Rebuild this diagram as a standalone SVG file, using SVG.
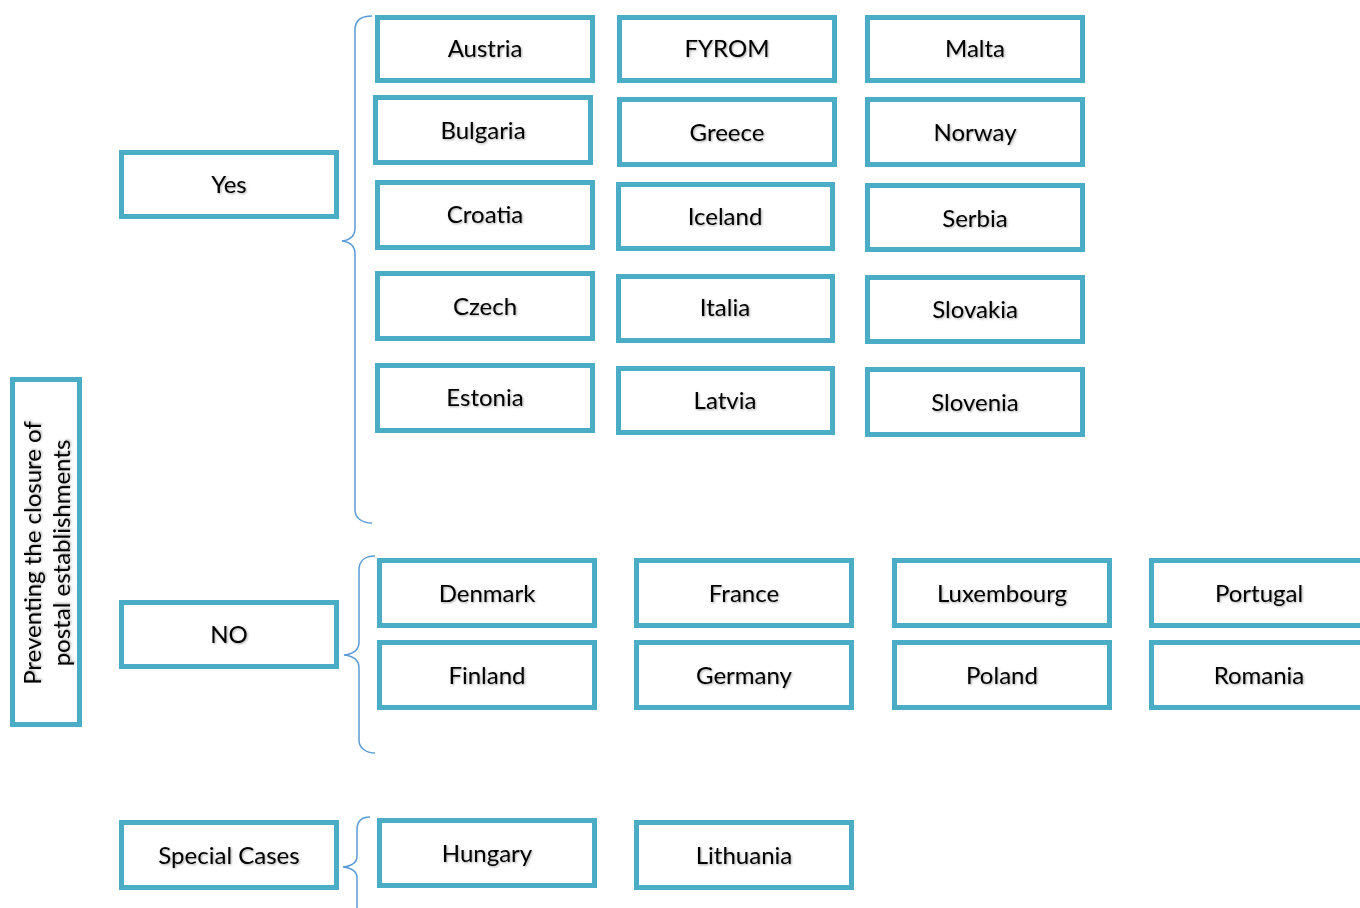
<svg xmlns="http://www.w3.org/2000/svg" width="1360" height="908" viewBox="0 0 1360 908">
<defs>
<filter id="sh" x="-10%" y="-30%" width="120%" height="160%">
<feDropShadow dx="1" dy="1" stdDeviation="0.8" flood-color="#000" flood-opacity="0.35"/>
</filter>
</defs>
<style>
.box{fill:#fff;stroke:#4BACC6;stroke-width:5}
.t{font-family:Lato,"Open Sans","Liberation Sans",sans-serif;font-size:24px;fill:#000;text-anchor:middle;dominant-baseline:central;filter:url(#sh)}
.br{fill:none;stroke:#5B9BD5;stroke-width:1.5}
</style>
<rect width="1360" height="908" fill="#fff"/>

<g id="title">
<rect class="box" x="12.5" y="379.5" width="67" height="345"/>
<text class="t" transform="translate(31,553) rotate(-90)">Preventing the closure of</text>
<text class="t" transform="translate(60,553) rotate(-90)">postal establishments</text>
</g>

<g id="yes"><rect class="box" x="121.5" y="152.5" width="215" height="64"/><text class="t" x="229" y="183">Yes</text></g>
<g id="no"><rect class="box" x="121.5" y="602.5" width="215" height="64"/><text class="t" x="229" y="633">NO</text></g>
<g id="special"><rect class="box" x="121.5" y="822.5" width="215" height="65"/><text class="t" x="229" y="854">Special Cases</text></g>

<g id="connectors">
<path class="br" d="M372,16 C362,16 355,20 355,30 L355,228 C355,236 350,240 342,241 C350,242 355,246 355,254 L355,510 C355,518 362,523 372,523"/>
<path class="br" d="M375,556 C366,556 359,560 359,570 L359,642 C359,650 353,654 344,655 C353,656 359,660 359,668 L359,740 C359,748 366,753 375,753"/>
<path class="br" d="M370,817 C362,817 357,821 357,830 L357,856 C357,863 352,866 343,867 C352,868 357,871 357,878 L357,908"/>
</g>

<g id="austria"><rect class="box" x="377.5" y="17.5" width="215" height="63"/><text class="t" x="485" y="47">Austria</text></g>
<g id="bulgaria"><rect class="box" x="375.5" y="97.5" width="215" height="65"/><text class="t" x="483" y="129">Bulgaria</text></g>
<g id="croatia"><rect class="box" x="377.5" y="182.5" width="215" height="65"/><text class="t" x="485" y="213">Croatia</text></g>
<g id="czech"><rect class="box" x="377.5" y="273.5" width="215" height="65"/><text class="t" x="485" y="305">Czech</text></g>
<g id="estonia"><rect class="box" x="377.5" y="365.5" width="215" height="65"/><text class="t" x="485" y="396">Estonia</text></g>

<g id="fyrom"><rect class="box" x="619.5" y="17.5" width="215" height="63"/><text class="t" x="727" y="47">FYROM</text></g>
<g id="greece"><rect class="box" x="619.5" y="99.5" width="215" height="65"/><text class="t" x="727" y="131">Greece</text></g>
<g id="iceland"><rect class="box" x="618.5" y="184.5" width="214" height="64"/><text class="t" x="725" y="215">Iceland</text></g>
<g id="italia"><rect class="box" x="618.5" y="276.5" width="214" height="64"/><text class="t" x="725" y="306">Italia</text></g>
<g id="latvia"><rect class="box" x="618.5" y="368.5" width="214" height="64"/><text class="t" x="725" y="399">Latvia</text></g>

<g id="malta"><rect class="box" x="867.5" y="17.5" width="215" height="63"/><text class="t" x="975" y="47">Malta</text></g>
<g id="norway"><rect class="box" x="867.5" y="99.5" width="215" height="65"/><text class="t" x="975" y="131">Norway</text></g>
<g id="serbia"><rect class="box" x="867.5" y="185.5" width="215" height="64"/><text class="t" x="975" y="217">Serbia</text></g>
<g id="slovakia"><rect class="box" x="867.5" y="277.5" width="215" height="64"/><text class="t" x="975" y="308">Slovakia</text></g>
<g id="slovenia"><rect class="box" x="867.5" y="369.5" width="215" height="65"/><text class="t" x="975" y="401">Slovenia</text></g>

<g id="denmark"><rect class="box" x="379.5" y="560.5" width="215" height="65"/><text class="t" x="487" y="592">Denmark</text></g>
<g id="finland"><rect class="box" x="379.5" y="642.5" width="215" height="65"/><text class="t" x="487" y="674">Finland</text></g>
<g id="france"><rect class="box" x="636.5" y="560.5" width="215" height="65"/><text class="t" x="744" y="592">France</text></g>
<g id="germany"><rect class="box" x="636.5" y="642.5" width="215" height="65"/><text class="t" x="744" y="674">Germany</text></g>
<g id="luxembourg"><rect class="box" x="894.5" y="560.5" width="215" height="65"/><text class="t" x="1002" y="592">Luxembourg</text></g>
<g id="poland"><rect class="box" x="894.5" y="642.5" width="215" height="65"/><text class="t" x="1002" y="674">Poland</text></g>
<g id="portugal"><rect class="box" x="1151.5" y="560.5" width="215" height="65"/><text class="t" x="1259" y="592">Portugal</text></g>
<g id="romania"><rect class="box" x="1151.5" y="642.5" width="215" height="65"/><text class="t" x="1259" y="674">Romania</text></g>

<g id="hungary"><rect class="box" x="379.5" y="820.5" width="215" height="65"/><text class="t" x="487" y="852">Hungary</text></g>
<g id="lithuania"><rect class="box" x="636.5" y="822.5" width="215" height="65"/><text class="t" x="744" y="854">Lithuania</text></g>
</svg>
